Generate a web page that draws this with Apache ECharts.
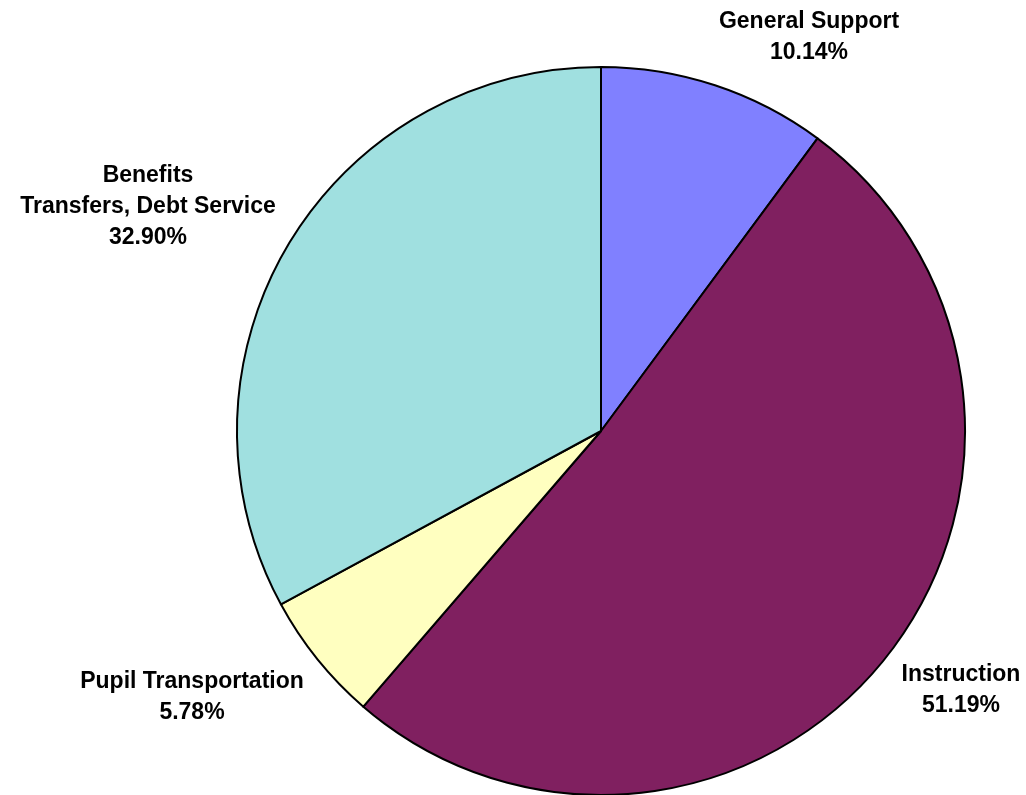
<!DOCTYPE html>
<html>
<head>
<meta charset="utf-8">
<script src="https://cdn.jsdelivr.net/npm/echarts@6/dist/echarts.min.js"></script>
<style>
  html, body { margin: 0; padding: 0; background: #fff; }
  #chart { width: 1026px; height: 795px; }
</style>
</head>
<body>
<div id="chart"></div>
<script>
// slices, clockwise from 12 o'clock
let categories = ['General Support', 'Instruction', 'Pupil Transportation', 'Benefits\nTransfers, Debt Service']
let shares = [10.14, 51.19, 5.78, 32.90]
let colors = ['#8080FF', '#802060', '#FFFFC0', '#A0E0E0']
// where Excel put each label (center of the text block)
let labelPos = [[809, 37], [961, 690], [192, 697], [148, 207]]

let chart = echarts.init(document.getElementById('chart'))

let option = {
    backgroundColor: '#ffffff',
    animation: false,
    series: [{
        type: 'pie',
        center: [601, 431],
        radius: 364,
        startAngle: 90,
        clockwise: true,
        silent: true,
        data: categories.map((name, i) => ({
            name: name,
            value: shares[i],
            itemStyle: { color: colors[i] }
        })),
        itemStyle: {
            borderColor: '#000000',
            borderWidth: 2
        },
        label: {
            show: true,
            position: 'outside',
            formatter: p => p.name + '\n' + shares[p.dataIndex].toFixed(2) + '%',
            fontFamily: "'Liberation Sans', Arial, sans-serif",
            fontWeight: 'bold',
            fontSize: 23,
            lineHeight: 31,
            color: '#000000',
            align: 'center',
            overflow: 'none'
        },
        labelLine: { show: false },
        labelLayout: function (params) {
            let pos = labelPos[params.dataIndex]
            return {
                x: pos[0],
                y: pos[1],
                align: 'center',
                verticalAlign: 'middle'
            }
        }
    }]
}

chart.setOption(option)
</script>
</body>
</html>
